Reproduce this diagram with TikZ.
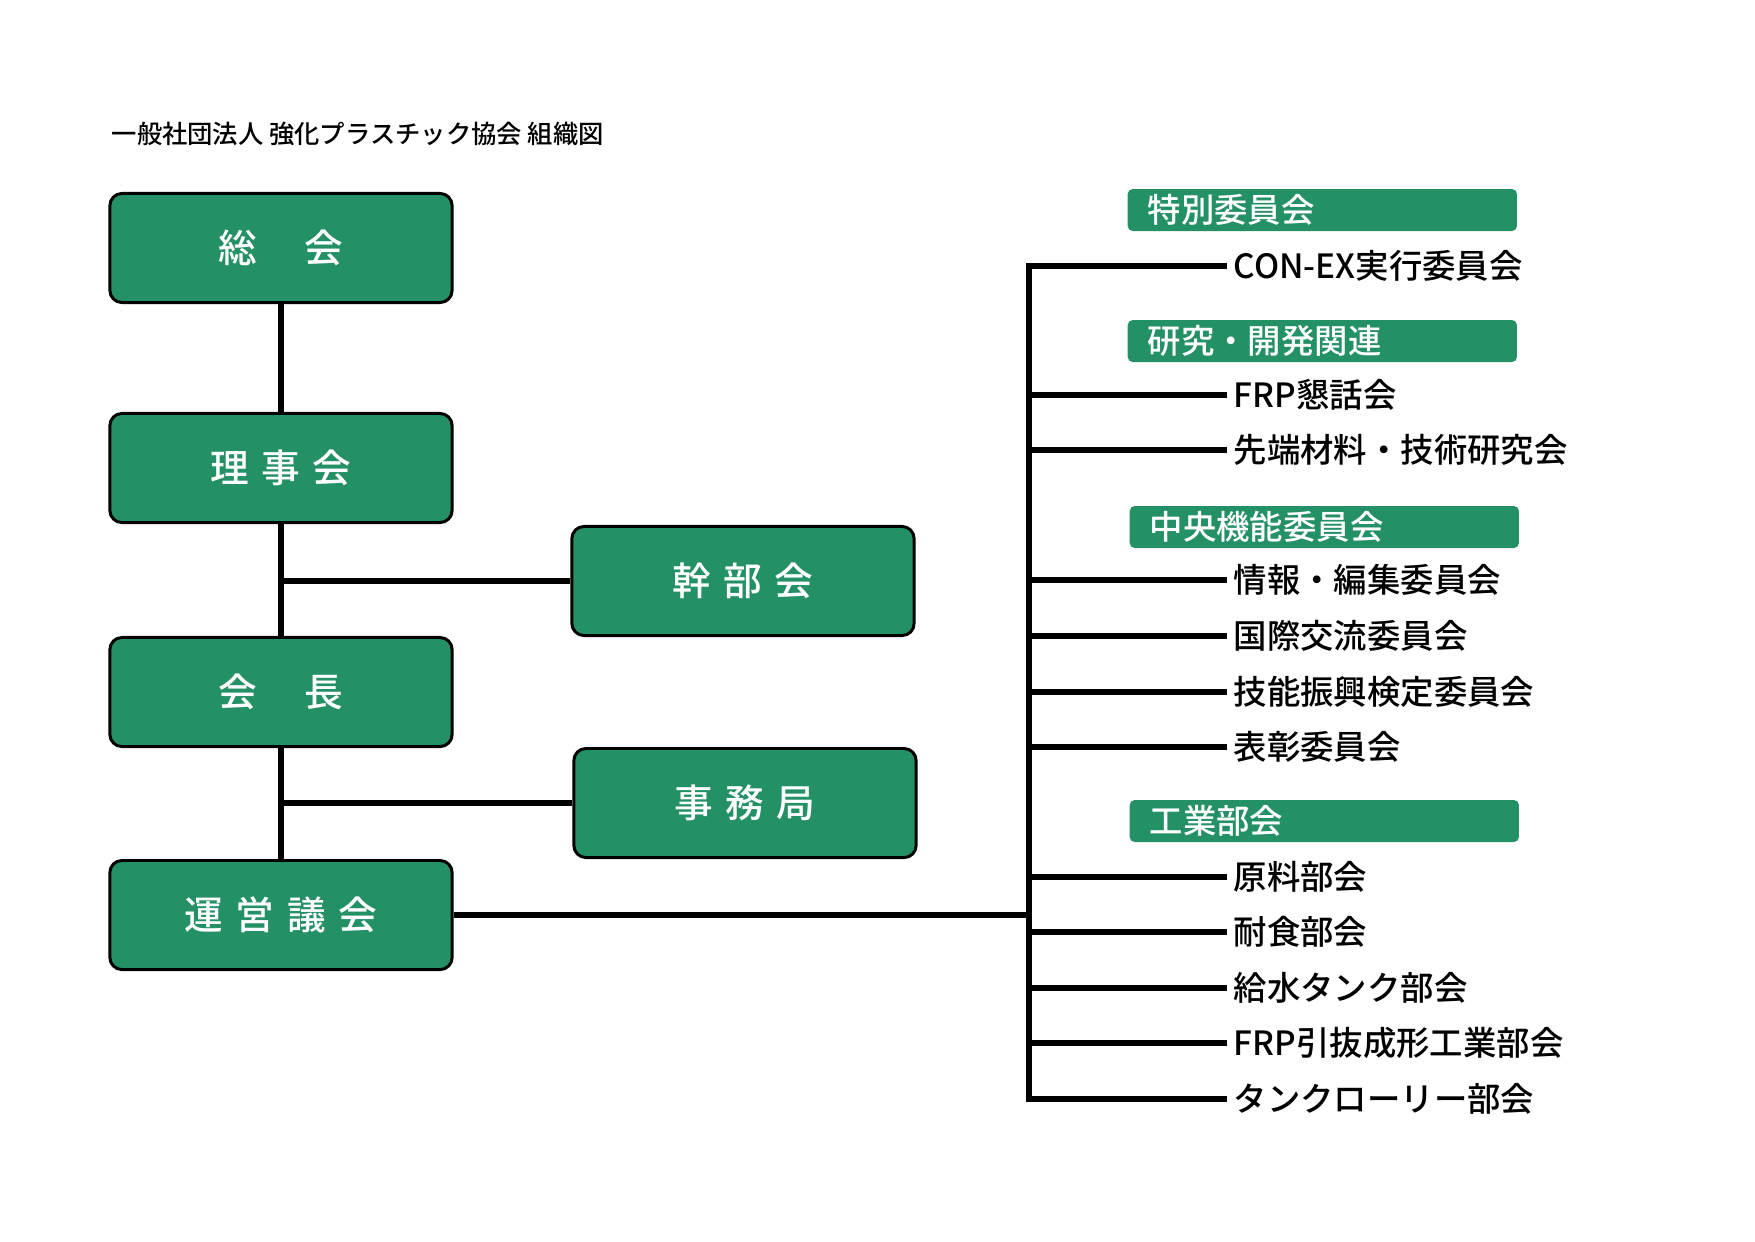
\documentclass[tikz,border=0pt]{standalone}
\usepackage{fontspec}
\setmainfont{Noto Sans CJK JP}[BoldFont={Noto Sans CJK JP Medium}]
\usepackage{tikz}
\usetikzlibrary{positioning}
\definecolor{orggreen}{RGB}{36,144,102}
\newcommand{\kgap}{\hspace{3.6pt}}

\begin{document}
\begin{tikzpicture}[x=0.01cm,y=-0.01cm,
  orgbox/.style={draw=black,line width=0.85pt,fill=orggreen,rounded corners=0.12cm,
    minimum width=3.42cm,minimum height=1.09cm,text=white,
    font=\fontsize{11}{13}\selectfont\bfseries},
  headbar/.style={fill=orggreen,rounded corners=0.05cm,anchor=west,align=left,
    text width=3.49cm,inner xsep=0.2cm,inner ysep=0pt,minimum height=0.42cm,
    text=white,font=\fontsize{9.5}{11}\selectfont\bfseries},
  item/.style={anchor=west,inner ysep=0pt,inner xsep=0.06cm,
    font=\fontsize{9.5}{11}\selectfont\bfseries},
  link/.style={line width=1.7pt}]
  % Boundary
  \path[use as bounding box] (0,0) rectangle (1755,1241);
  % Title
  \node[anchor=west,inner sep=0pt,font=\fontsize{7.2}{8}\selectfont\bfseries] (title) at (111,134)
    {一般社団法人 強化プラスチック協会 組織図};
  % Main column
  \node[orgbox] (soukai) at (281,248) {総\hspace{13.5pt}会};
  \node[orgbox] (rijikai) at (281,468) {理\kgap 事\kgap 会};
  \node[orgbox] (kaicho) at (281,692) {会\hspace{13.5pt}長};
  \node[orgbox] (unei) at (281,915) {運\kgap 営\kgap 議\kgap 会};
  \node[orgbox] (kanbu) at (743,581) {幹\kgap 部\kgap 会};
  \node[orgbox] (jimu) at (745,803) {事\kgap 務\kgap 局};
  % Group headers
  \node[headbar] (tokubetsu) at (1127,210) {特別委員会};
  \node[headbar] (kenkyu) at (1127,341) {研究・開発関連};
  \node[headbar] (chuo) at (1129,527) {中央機能委員会};
  \node[headbar] (kogyo) at (1129,821) {工業部会};
  % Committees
  \node[item] (conex) at (1227,266) {CON-EX実行委員会};
  \node[item] (frpkon) at (1227,395) {FRP懇話会};
  \node[item] (sentan) at (1227,450) {先端材料・技術研究会};
  \node[item] (johou) at (1227,580) {情報・編集委員会};
  \node[item] (kokusai) at (1227,636) {国際交流委員会};
  \node[item] (ginou) at (1227,692) {技能振興検定委員会};
  \node[item] (hyousho) at (1227,747) {表彰委員会};
  \node[item] (genryo) at (1227,877) {原料部会};
  \node[item] (taishoku) at (1227,932) {耐食部会};
  \node[item] (kyusui) at (1227,988) {給水タンク部会};
  \node[item] (hikinuki) at (1227,1043) {FRP引抜成形工業部会};
  \node[item] (tankuro) at (1227,1099) {タンクローリー部会};
  % Connectors
  \draw[link] (soukai.south) -- (rijikai.north);
  \draw[link] (rijikai.south) -- (kaicho.north);
  \draw[link] (kaicho.south) -- (unei.north);
  \draw[link] (kanbu.west) -- (kanbu.west -| rijikai.south);
  \draw[link] (jimu.west) -- (jimu.west -| kaicho.south);
  \coordinate (trunk) at (1029,915);
  \draw[link] (unei.east) -- (trunk);
  \draw[link] (conex.west) -| (trunk) |- (tankuro.west);
  \foreach \n in {frpkon,sentan,johou,kokusai,ginou,hyousho,genryo,taishoku,kyusui,hikinuki}
    \draw[link] (\n.west) -- (\n.west -| trunk);
\end{tikzpicture}
\end{document}
